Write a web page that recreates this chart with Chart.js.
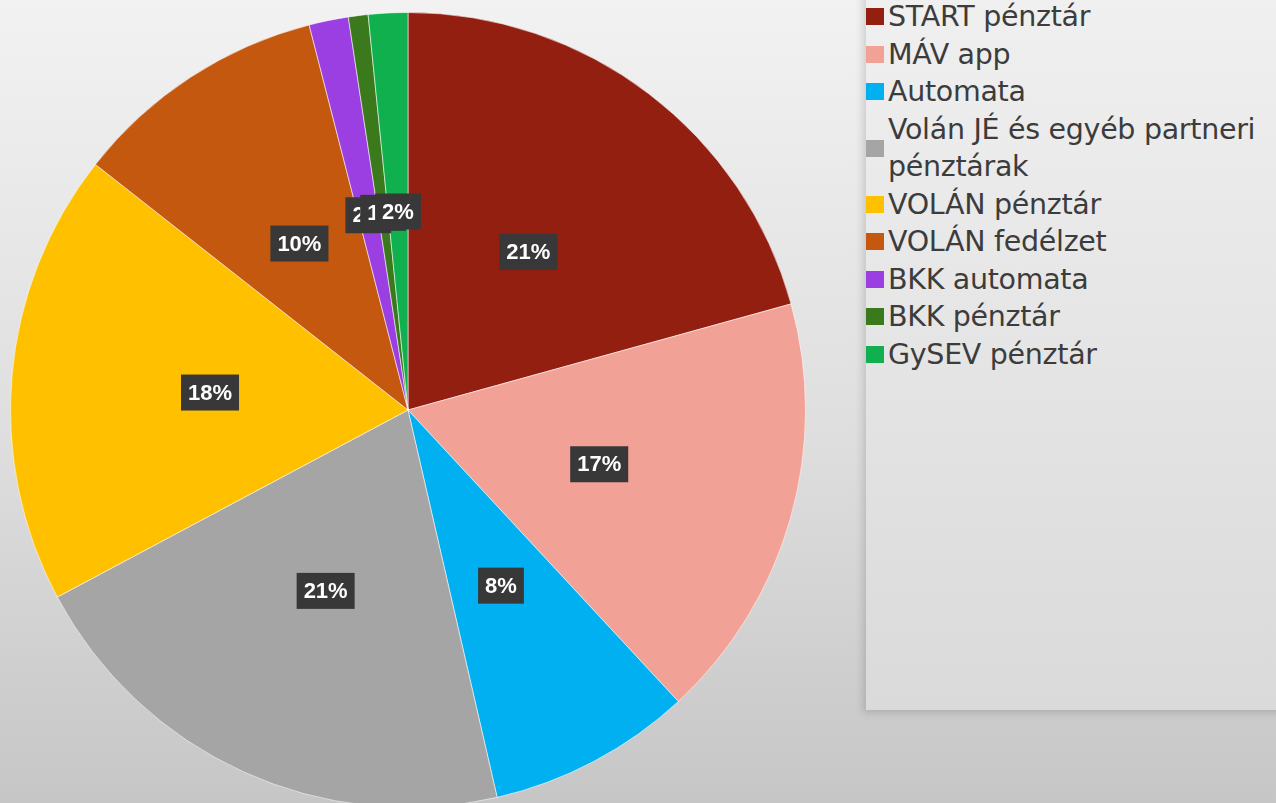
<!DOCTYPE html>
<html>
<head>
<meta charset="utf-8">
<script src="https://cdn.jsdelivr.net/npm/chart.js@4.4.1/dist/chart.umd.min.js"></script>
<style>
  html, body { margin:0; padding:0; width:1276px; height:803px; overflow:hidden; }
  body { background: linear-gradient(to bottom, #f2f2f2 0%, #dedede 55%, #c6c6c6 100%); position:relative; font-family:"DejaVu Sans", sans-serif; }
  #panel { position:absolute; left:866px; top:-10px; width:430px; height:720px;
           background: linear-gradient(to bottom, #f0f0f0 0%, #dadada 100%);
           box-shadow: -3px 3px 8px rgba(0,0,0,0.15); }
  #legend { position:absolute; left:866px; top:-2px; margin:0; padding:0; list-style:none; }
  #legend li { display:flex; align-items:center; font-size:28.5px; line-height:37.5px; color:#3c3c3c; letter-spacing:-0.3px; }
  #legend li span.box { width:18px; height:17px; margin-right:4px; flex:none; }
  #legend li span.txt { white-space:pre; }
  #pieWrap { position:absolute; left:10px; top:12px; }
</style>
</head>
<body>
<div id="panel"></div>
<ul id="legend"></ul>
<div id="pieWrap"><canvas id="pieChart" width="796" height="796"></canvas></div>

<script>
// ==========================
// DATOS
// ==========================
const categories = [
    "START pénztár",
    "MÁV app",
    "Automata",
    "Volán JÉ és egyéb partneri\npénztárak",
    "VOLÁN pénztár",
    "VOLÁN fedélzet",
    "BKK automata",
    "BKK pénztár",
    "GySEV pénztár"
];
const shares = [20.7, 17.4, 8.3, 20.8, 18.4, 10.4, 1.6, 0.8, 1.6];
const sliceColors = ["#931f10", "#f1a196", "#00b0f0", "#a5a5a5", "#ffc000", "#c5580f", "#9b3fe2", "#3a7a1c", "#10b04e"];

// ==========================
// ETIQUETAS (cajas oscuras)
// ==========================
const pctLabels = {
    id: "pctLabels",
    afterDatasetsDraw(chart){
        const ctx = chart.ctx;
        const meta = chart.getDatasetMeta(0);
        const data = chart.data.datasets[0].data;
        const total = data.reduce((a, b) => a + b, 0);
        ctx.save();
        ctx.font = "bold 22px 'Liberation Sans', Arial, sans-serif";
        ctx.textAlign = "center";
        ctx.textBaseline = "middle";
        meta.data.forEach((arc, i) => {
            const pos = arc.tooltipPosition();
            const txt = Math.round(data[i] / total * 100) + "%";
            const w = ctx.measureText(txt).width + 14;
            const h = 36;
            ctx.fillStyle = "#383838";
            ctx.fillRect(pos.x - w / 2, pos.y - h / 2, w, h);
            ctx.fillStyle = "#ffffff";
            ctx.fillText(txt, pos.x, pos.y + 1);
        });
        ctx.restore();
    }
};

// ==========================
// GRÁFICA
// ==========================
const pieChart = new Chart(document.getElementById("pieChart"), {
    type: "pie",
    data: {
        labels: categories,
        datasets: [{
            data: shares,
            backgroundColor: sliceColors,
            borderColor: "rgba(255,255,255,0.55)",
            borderWidth: 1
        }]
    },
    options: {
        responsive: false,
        animation: false,
        devicePixelRatio: 1,
        layout: { padding: 0 },
        plugins: {
            legend: { display: false },
            tooltip: { enabled: false }
        }
    },
    plugins: [pctLabels]
});

// ==========================
// LEYENDA HTML
// ==========================
const legendList = document.getElementById("legend");
pieChart.options.plugins.legend.labels.generateLabels(pieChart).forEach(item => {
    const li = document.createElement("li");
    li.innerHTML = `<span class="box" style="background:${item.fillStyle}"></span><span class="txt">${item.text}</span>`;
    legendList.appendChild(li);
});
</script>
</body>
</html>
